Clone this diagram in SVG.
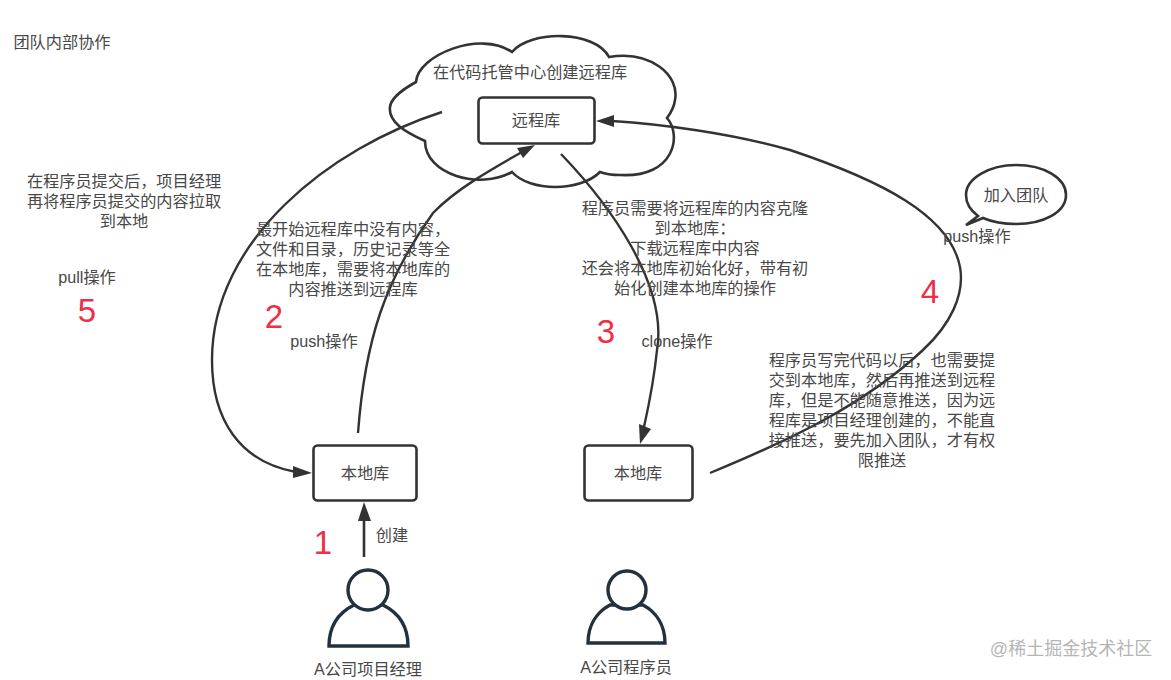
<svg xmlns="http://www.w3.org/2000/svg" width="1171" height="680" viewBox="0 0 1171 680">
<style>
text{font-family:"Liberation Sans","Noto Sans CJK SC",sans-serif;fill:#484848;font-size:16.2px;text-anchor:middle}
.box{fill:#fff;stroke:#333;stroke-width:2.6}
.line{fill:none;stroke:#333;stroke-width:2.4}
.p{fill:#fff;stroke:#22303f;stroke-width:3.4}
.n{fill:#ee2f45;font-size:33px;font-family:"Liberation Sans",sans-serif}
.a{fill:#333}
</style>
<rect width="1171" height="680" fill="#fff"/>
<text x="62" y="48">团队内部协作</text>
<g id="cloud">
<path class="box" d="M416 82C418 55 480 30 512 52C530 30 595 30 609 57C650 50 680 75 675 100C674 108 670 114 667 118C682 135 675 178 620 175C612 175 605 174 600 172C580 192 530 192 512 172C480 190 425 175 425 141C405 132 388 122 390 107C391 98 405 88 416 82Z"/>
<text x="530" y="78">在代码托管中心创建远程库</text>
</g>
<g id="remote"><rect class="box" x="478.500" y="97.500" width="116" height="46" rx="4"/><text x="536" y="126">远程库</text></g>
<g id="local1"><rect class="box" x="313.500" y="445.500" width="103" height="55" rx="4"/><text x="365" y="479">本地库</text></g>
<g id="local2"><rect class="box" x="584.500" y="445.500" width="108" height="55" rx="4"/><text x="638" y="479">本地库</text></g>
<g id="manager">
<path class="p" d="M329 646C329 625 340 612 354 605L383 605C397 612 408 625 408 646Z"/>
<circle class="p" cx="368" cy="590" r="20"/>
<text x="368" y="675">A公司项目经理</text>
</g>
<g id="programmer">
<path class="p" d="M588 643C588 625 597 612 610 605L643 605C656 612 665 625 665 643Z"/>
<circle class="p" cx="627" cy="590" r="19"/>
<text x="626" y="673">A公司程序员</text>
</g>
<g id="bubble">
<path class="box" d="M966 195C966 178 990 165 1016 165C1044 165 1066 178 1066 195C1066 212 1044 224 1016 224C1002 224 990 221 983 218L966 225L978 216C970 210 966 203 966 195Z"/>
<text x="1016" y="201">加入团队</text>
</g>
<g id="connectors">
<path class="line" d="M442 112C330 148 212 240 212 360C212 420 240 462 296 472"/>
<polygon class="a" points="312,473 293,478 293,466"/>
<path class="line" d="M358 433C365 340 385 280 433 213C455 190 490 170 522 152"/>
<polygon class="a" points="535,145 523,158 517,148"/>
<path class="line" d="M561 154C610 205 668 285 657 350C654 380 650 400 644 427"/>
<polygon class="a" points="640,444 639,424 651,429"/>
<path class="line" d="M710 473C790 440 864 405 923 350C950 325 965 295 960 267C950 215 880 180 790 150C730 133 660 124 612 121"/>
<polygon class="a" points="596,121 614,115 614,127"/>
<path class="line" d="M364 557V518" style="stroke-width:2.600"/>
<polygon class="a" points="364,502 371,521 358,521"/>
</g>
<g id="labels">
<text y="187"><tspan x="124">在程序员提交后，项目经理</tspan><tspan x="124" dy="20">再将程序员提交的内容拉取</tspan><tspan x="124" dy="20">到本地</tspan></text>
<text x="87" y="283">pull操作</text>
<text y="235"><tspan x="353">最开始远程库中没有内容，</tspan><tspan x="353" dy="20">文件和目录，历史记录等全</tspan><tspan x="353" dy="20">在本地库，需要将本地库的</tspan><tspan x="353" dy="20">内容推送到远程库</tspan></text>
<text x="324" y="347">push操作</text>
<text y="214"><tspan x="695">程序员需要将远程库的内容克隆</tspan><tspan x="695" dy="20">到本地库：</tspan><tspan x="695" dy="20">下载远程库中内容</tspan><tspan x="695" dy="20">还会将本地库初始化好，带有初</tspan><tspan x="695" dy="20">始化创建本地库的操作</tspan></text>
<text x="677" y="347">clone操作</text>
<text x="977" y="242">push操作</text>
<text y="366"><tspan x="882">程序员写完代码以后，也需要提</tspan><tspan x="882" dy="20">交到本地库，然后再推送到远程</tspan><tspan x="882" dy="20">库，但是不能随意推送，因为远</tspan><tspan x="882" dy="20">程库是项目经理创建的，不能直</tspan><tspan x="882" dy="20">接推送，要先加入团队，才有权</tspan><tspan x="882" dy="20">限推送</tspan></text>
<text x="392" y="541">创建</text>
<text class="n" x="323" y="554">1</text>
<text class="n" x="274" y="328">2</text>
<text class="n" x="606" y="343">3</text>
<text class="n" x="930" y="303">4</text>
<text class="n" x="87" y="322">5</text>
</g>
<text x="1071" y="655" style="fill:#b5b5b5;font-size:18px">@稀土掘金技术社区</text>
</svg>
